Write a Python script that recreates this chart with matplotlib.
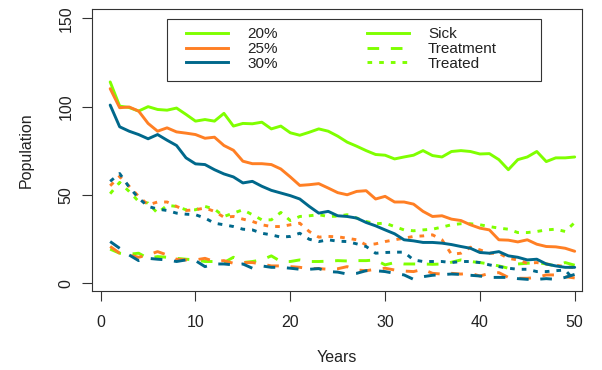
import matplotlib.pyplot as plt
from matplotlib.lines import Line2D
from matplotlib.patches import Rectangle
import numpy as np

plt.rcParams['font.family'] = ['Liberation Sans', 'DejaVu Sans']

years = np.arange(1, 51)

# Sick population
sick_20 = [114, 100.3, 99.5, 97.5, 100, 98.4, 98, 99.2, 95.6, 91.8,
           92.7, 91.8, 96.2, 89, 90.5, 90.3, 91.2, 87.4, 89, 85.2,
           83.8, 85.5, 87.4, 86.1, 83.3, 79.9, 77.6, 75.1, 72.9, 72.5,
           70.4, 71.5, 72.5, 75.1, 72.3, 71.5, 74.6, 75.1, 74.6, 73.2,
           73.4, 70, 64.3, 70, 71.5, 74.6, 68.9, 71, 71, 71.5]
sick_25 = [110.2, 99.4, 99.8, 97.5, 90.5, 86.1, 88, 85.7, 85, 84.2,
           82.1, 82.7, 78, 75.3, 69.1, 67.7, 67.7, 67.2, 64.7, 60.2,
           55.4, 55.8, 56.4, 53.9, 51.3, 50.1, 52, 52.4, 47.7, 49.2,
           46, 46, 44.8, 40.7, 37.8, 38.2, 36.3, 35.5, 33.1, 31.2,
           30.2, 24.6, 24.4, 23.4, 24.6, 22.1, 20.8, 20.6, 19.8, 18.1]
sick_30 = [100.9, 88.6, 86.1, 84.2, 81.8, 84.2, 81, 78, 71, 67.6,
           67.2, 64.3, 61.9, 60.2, 56.8, 57.7, 54.9, 52.6, 51.1, 49.6,
           47.7, 43.5, 39.7, 40.7, 38.2, 37.8, 36.9, 34.4, 32.5, 30.2,
           28, 24.6, 24, 23.1, 23.1, 22.7, 21.9, 20.8, 19.8, 17.4,
           17, 17.9, 15.5, 14.7, 13.2, 13.6, 10.9, 9.8, 9, 9]

# Under treatment
treat_20 = [19.3, 17, 16.4, 17, 14.1, 15.1, 14.7, 14.1, 13.6, 13.2,
            12.3, 12.3, 11.7, 14.7, 11.7, 12.3, 13.2, 15.5, 12.3, 12.3,
            13.2, 12.3, 12.3, 12.5, 12.8, 12.6, 12.8, 12.8, 13.2, 10.4,
            11.7, 10.9, 10.9, 10.9, 10.7, 10.9, 11.9, 13.2, 12.3, 11.7,
            10.9, 9.8, 8.5, 10.9, 11.3, 11.7, 10.9, 9.8, 11.7, 10.2]
treat_25 = [20.8, 17, 16, 14.7, 16, 17.9, 16, 13.6, 13.2, 13.2,
            14.1, 12.3, 12.8, 11.3, 11.7, 11.7, 10.9, 9.8, 9.8, 9.4,
            9, 8.3, 8.3, 7.9, 8.2, 9.4, 7.5, 7.1, 7.9, 8.5,
            7.5, 6.9, 6.6, 7.9, 5.6, 5.2, 5.6, 5.2, 5.6, 4.1,
            5.6, 6, 3.3, 2.8, 2.8, 3.3, 4.7, 4.7, 3.7, 3]
treat_30 = [23.6, 19.8, 16, 12.8, 14.1, 13.6, 13.2, 12.3, 13.2, 12.8,
            9.4, 10.9, 10.9, 10.4, 10.9, 8.5, 9.8, 9, 9, 8.5,
            7.9, 7.9, 8.3, 6.6, 6.3, 5.2, 5.6, 7.1, 7.1, 6.6,
            5.6, 4.7, 2.2, 3.7, 4.5, 4.9, 5.2, 5, 4.5, 4.1,
            3.3, 3.3, 3.3, 2.6, 2.2, 2.2, 2.6, 2.2, 3.3, 5]

# Treated
treated_20 = [50.7, 57.1, 52, 46.3, 45.4, 39.7, 44.1, 43.5, 41.6, 41.6,
              43.5, 42, 37.8, 39.7, 41.6, 38.8, 35.9, 35.9, 40.1, 35.5,
              37.8, 38.2, 38.8, 37.8, 38, 38.8, 36.9, 35, 33.7, 34,
              32.1, 30.2, 29.7, 30.2, 30.6, 31.8, 33.1, 33.7, 33.7, 33.1,
              32.1, 31.2, 30.6, 28.7, 28.7, 29.3, 30.2, 30.6, 29.3, 34.4]
treated_25 = [55.2, 60.5, 54.9, 49.2, 44.4, 46, 46, 43.5, 41.2, 41.6,
              42.6, 40.7, 37.4, 37.8, 36.3, 35, 33.1, 32.1, 32.1, 33.1,
              34, 29.3, 26.1, 26.5, 26.3, 25.5, 24.6, 21.7, 22.3, 23.6,
              24.6, 25.5, 26.5, 26.8, 27.4, 24.6, 16.4, 17, 20.4, 18.9,
              17, 17, 14.1, 13.2, 11.3, 11.7, 10.9, 10.2, 9.4, 8.8]
treated_30 = [57.7, 62.1, 54.5, 48.2, 43.5, 42, 41.2, 39.7, 39.1, 38.8,
              36.9, 34, 33.1, 32.1, 30.6, 30.2, 28.3, 27.4, 26.1, 26.5,
              28.3, 24.9, 23.6, 24.6, 23.8, 23.6, 22.3, 20.8, 17, 17.4,
              17.6, 17.6, 13.2, 12.3, 12.3, 12.3, 11.7, 12.3, 12.3, 11.7,
              10.4, 9.4, 8.5, 7.9, 7.9, 6.6, 6.6, 7.1, 7.5, 1.4]

rates = ['20%', '25%', '30%']
colors = ['#7FFF00', '#FF7F24', '#00688B']
groups = ['Sick', 'Treatment', 'Treated']
dash_styles = ['-', (0, (4, 4)), (0, (1.6, 2.4))]

series = {
    '20%': [sick_20, treat_20, treated_20],
    '25%': [sick_25, treat_25, treated_25],
    '30%': [sick_30, treat_30, treated_30],
}

lw = 2.1
fig = plt.figure(figsize=(6.02, 3.70), dpi=100)
ax = fig.add_axes([91.5 / 602, 1 - 291 / 370, 490.5 / 602, 282 / 370])

for rate, col in zip(rates, colors):
    for vals, ls in zip(series[rate], dash_styles):
        ax.plot(years, vals, color=col, lw=lw, linestyle=ls,
                solid_capstyle='round', solid_joinstyle='round')

ax.set_xlim(-0.97, 50.77)
ax.set_ylim(-4.4, 155.3)
ax.set_xticks([0, 10, 20, 30, 40, 50])
ax.set_yticks([0, 50, 100, 150])
ax.tick_params(axis='both', length=7, width=0.8, labelsize=11.5,
               color='#333333', labelcolor='#222222')
ax.tick_params(axis='x', pad=10)
ax.tick_params(axis='y', pad=6)
for lab in ax.get_yticklabels():
    lab.set_rotation(90)
    lab.set_va('center')
for s in ax.spines.values():
    s.set_linewidth(0.8)
    s.set_color('#333333')

ax.set_xlabel('Years', fontsize=11.5, labelpad=15, color='#222222')
ax.set_ylabel('Population', fontsize=11.5, labelpad=18, color='#222222')

# legend
handles = [Line2D([], [], color=c, lw=lw) for c in colors]
handles += [Line2D([], [], color=colors[0], lw=lw, linestyle=ls) for ls in dash_styles]
labels = rates + groups
leg = fig.legend(handles, labels, ncol=2, loc='upper left',
                 bbox_to_anchor=(186 / 602, 1 - 27 / 370),
                 frameon=False, fontsize=11, borderpad=0, borderaxespad=0,
                 handlelength=2.75, handletextpad=1.25, columnspacing=5.85,
                 labelspacing=0.06)
for t in leg.get_texts():
    t.set_color('#222222')
fig.patches.append(Rectangle((167 / 602, 1 - 81 / 370), 374 / 602, 62 / 370,
                             transform=fig.transFigure, fill=False,
                             edgecolor='#333333', lw=0.8))

fig.savefig('out.png', dpi=100)
